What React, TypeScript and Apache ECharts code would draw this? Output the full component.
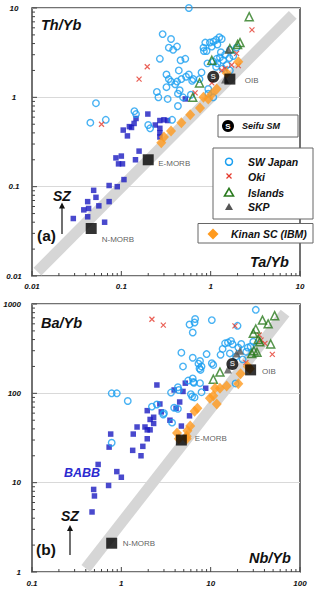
import React, { useEffect, useRef } from 'react';
import * as echarts from 'echarts';

const FONT = '"Liberation Sans", Arial, Helvetica, sans-serif';

// ---------- Panel (a): Th/Yb vs Ta/Yb ----------
const A_SW_JAPAN: number[][] = [
  [0.57, 10], [0.29, 5.1], [0.36, 4.5], [0.34, 3.6], [0.38, 3.4], [0.42, 3.7], [0.27, 2.7],
  [0.46, 2.6], [0.52, 2.7], [0.44, 2.0], [0.32, 1.8], [0.34, 1.6], [0.36, 1.5], [0.42, 1.5],
  [0.47, 1.6], [0.53, 1.7], [0.57, 1.8], [0.64, 1.6], [0.75, 1.6], [0.79, 1.9], [0.40, 1.4],
  [0.32, 1.3], [0.45, 1.2], [0.25, 1.15], [0.26, 1.0], [0.33, 0.96], [0.43, 1.1], [0.49, 1.0],
  [0.43, 0.8], [0.60, 1.07], [0.052, 0.86], [0.045, 0.52], [0.067, 0.56], [0.14, 0.70],
  [0.146, 0.65], [0.20, 0.49], [0.21, 0.45], [0.37, 0.56],
  [0.87, 4.1], [0.83, 3.6], [0.98, 4.1], [1.07, 4.2], [1.15, 4.4], [1.25, 4.7], [1.33, 4.5],
  [1.03, 3.7], [1.19, 3.9], [0.90, 3.3], [0.84, 3.3], [1.30, 3.2], [1.45, 3.0], [1.64, 3.4],
  [1.95, 3.6], [1.27, 2.8], [1.38, 2.6], [1.19, 2.4], [0.92, 2.4], [1.07, 2.5], [1.62, 2.75],
  [1.79, 2.9], [1.51, 2.3], [1.36, 2.1], [1.15, 2.2], [1.64, 2.0], [0.62, 1.53], [0.94, 1.24],
  [1.07, 1.0], [0.94, 1.1], [1.17, 2.7],
];
const A_OKI: number[][] = [
  [0.195, 2.2], [0.158, 1.6], [2.9, 5.7], [0.060, 0.50], [1.95, 3.1], [1.72, 2.3], [2.04, 2.26],
  [1.45, 2.1], [1.03, 1.45], [0.67, 1.12], [1.33, 2.0],
];
const A_ISLANDS: number[][] = [
  [2.7, 8.0], [2.13, 4.1], [2.0, 3.9], [1.64, 3.5], [1.03, 2.6], [0.75, 1.45], [0.63, 1.0],
];
const A_SKP: number[][] = [[1.58, 3.4], [1.45, 1.58]];
const A_KINAN: number[][] = [
  [2.04, 2.5], [1.51, 1.87], [1.17, 1.24], [1.03, 1.09], [0.83, 1.0], [0.94, 0.96], [0.76, 0.76],
  [0.59, 0.64], [0.47, 0.52], [0.36, 0.42], [0.30, 0.36], [0.28, 0.31],
];
const A_BABB: number[][] = [
  [0.198, 0.65], [0.146, 0.58], [0.139, 0.51], [0.123, 0.47], [0.105, 0.43], [0.117, 0.37],
  [0.13, 0.46], [0.24, 0.49], [0.27, 0.55], [0.30, 0.56], [0.33, 0.55], [0.27, 0.45],
  [0.27, 0.40], [0.27, 0.36], [0.52, 0.96], [0.158, 0.25], [0.087, 0.21], [0.10, 0.22],
  [0.093, 0.18], [0.103, 0.18], [0.144, 0.20], [0.073, 0.103], [0.090, 0.10], [0.107, 0.12],
  [0.049, 0.091], [0.052, 0.076], [0.042, 0.068], [0.073, 0.068], [0.056, 0.061],
  [0.038, 0.055], [0.043, 0.057], [0.029, 0.044], [0.042, 0.046], [0.065, 0.040],
];
const A_NMORB = [0.046, 0.034];
const A_EMORB = [0.2, 0.2];
const A_OIB = [1.64, 1.6];
const A_SEIFU = [1.07, 1.7];
const A_BAND: number[][] = [[0.0115, 0.0112], [8.3, 8.4]];

// ---------- Panel (b): Ba/Yb vs Nb/Yb ----------
const B_SW_JAPAN: number[][] = [
  [32, 860], [6.7, 680], [6.6, 620], [5.8, 590], [6.3, 480], [10.3, 660], [20, 570], [4.7, 285],
  [4.9, 200], [6.3, 250], [7.6, 230], [9.0, 275], [7.3, 215], [7.5, 190], [7.9, 200], [7.7, 183],
  [10.3, 217], [10.7, 208], [12.9, 270], [13.6, 314], [14.5, 363], [15.6, 370], [16.9, 386],
  [17.6, 354], [20.4, 325], [22, 357], [26, 325], [25, 292], [30, 378], [28, 335], [16.4, 280],
  [19.2, 258], [22.8, 240], [6.3, 147], [6.5, 131], [7.6, 130], [5.6, 139], [4.3, 117],
  [3.6, 102], [4.4, 109], [6.0, 98], [6.2, 92], [6.6, 90], [7.9, 103], [2.2, 71], [2.5, 75],
  [19, 129], [0.78, 100], [0.89, 100], [1.18, 82], [3.0, 60], [3.7, 47], [4.3, 67], [3.9, 69],
  [6.4, 134], [0.78, 28], [2.95, 58],
];
const B_OKI: number[][] = [
  [2.2, 675], [2.95, 580], [18.7, 570], [35, 450], [36.6, 395], [40.5, 363], [49, 273], [24.8, 221],
];
const B_ISLANDS: number[][] = [
  [52, 740], [38, 660], [44, 600], [32, 525], [30, 470], [34, 400], [35.5, 378], [47, 357],
  [30.5, 300], [33, 288], [28.8, 280], [12.7, 173], [10.7, 144],
];
const B_SKP: number[][] = [[19.5, 280], [15.6, 185], [21.3, 300]];
const B_KINAN: number[][] = [
  [27.5, 188], [26, 200], [21.6, 166], [20.4, 128], [15.1, 121], [12.7, 114], [11.2, 114],
  [10.7, 94], [11.7, 76], [9.8, 88], [7.1, 68], [6.6, 63], [5.9, 43], [5.4, 33], [4.2, 36],
  [5.5, 38], [4.4, 31], [5.4, 31],
];
const B_BABB: number[][] = [
  [2.5, 124], [3.9, 109], [4.9, 105], [5.2, 130], [8.8, 114], [2.7, 76], [4.5, 80], [4.1, 68],
  [1.95, 64], [2.3, 54], [2.1, 51], [2.3, 46], [2.8, 62], [3.5, 50], [4.7, 43], [5.8, 56],
  [1.5, 42], [1.84, 42], [1.95, 39], [2.1, 39], [0.76, 35], [1.36, 35], [1.95, 31], [0.73, 25],
  [1.74, 25.5], [1.34, 23], [1.66, 20], [0.55, 16], [0.89, 13.3], [1.0, 11.5], [0.49, 8.4],
  [0.72, 9.3], [0.50, 7.1], [0.47, 4.7],
];
const B_NMORB = [0.78, 2.1];
const B_EMORB = [4.7, 30];
const B_OIB = [28, 183];
const B_SEIFU = [17.5, 213];
const B_BAND: number[][] = [[0.4, 1.1], [68, 790]];

// axis ranges and tick positions
const A_X_RANGE = [0.01, 10];
const A_Y_RANGE = [0.01, 10];
const B_X_RANGE = [0.1, 100];
const B_Y_RANGE = [1, 1000];
const TICK_FACTORS = [1, 2, 3, 4, 5, 6, 7, 8, 9];

const C_SWJ = '#1a9ff0';
const C_OKI = '#e53a2d';
const C_ISL = '#2a7a1e';
const C_SKP = '#555555';
const C_KIN = '#ff9a1e';
const C_BABB = '#1c1cc0';

function tickList(range: number[]) {
  const out: number[][] = [];
  for (let d = range[0]; d < range[1] * 0.999; d *= 10) {
    TICK_FACTORS.forEach((f) => out.push([Number((d * f).toPrecision(3)), f === 1 ? 1 : 0]));
  }
  out.push([range[1], 1]);
  return out;
}

export default function App() {
  const ref = useRef<HTMLDivElement>(null);
  useEffect(() => {
    const chart = echarts.init(ref.current!, null, { renderer: 'svg' });

    const labelFmt = (v: number) => String(Number(v.toPrecision(2)));
    const axisLabel = (extra: any) => ({
      fontFamily: FONT, fontSize: 8, fontWeight: 'bold', fontStyle: 'italic', color: '#111',
      formatter: labelFmt, ...extra,
    });
    const xAx = (grid: number, range: number[], margin: number) => ({
      type: 'log', logBase: 10, gridIndex: grid, min: range[0], max: range[1],
      axisLine: { show: false }, axisTick: { show: false }, splitLine: { show: false },
      axisLabel: axisLabel({ margin }),
    });
    const yAx = (grid: number, range: number[], lab: any) => ({
      type: 'log', logBase: 10, gridIndex: grid, min: range[0], max: range[1],
      axisLine: { show: false }, axisTick: { show: false },
      splitLine: { show: true, lineStyle: { color: '#d9d9d9', width: 1 } },
      axisLabel: axisLabel(lab),
    });

    const scatter = (idx: number, data: any[], opts: any) => ({
      type: 'scatter', xAxisIndex: idx, yAxisIndex: idx, data, silent: true, ...opts,
    });
    const swj = (idx: number, d: number[][]) => scatter(idx, d, {
      symbol: 'circle', symbolSize: 6.5, z: 4,
      itemStyle: { color: 'rgba(255,255,255,0)', borderColor: C_SWJ, borderWidth: 1.4 },
    });
    const oki = (idx: number, d: number[][]) => scatter(idx, d, {
      symbol: 'path://M0,0L10,10M10,0L0,10', symbolSize: 5, z: 5,
      itemStyle: { color: 'rgba(0,0,0,0)', borderColor: C_OKI, borderWidth: 1.2 },
    });
    const isl = (idx: number, d: number[][]) => scatter(idx, d, {
      symbol: 'triangle', symbolSize: 8, z: 5,
      itemStyle: { color: 'rgba(255,255,255,0)', borderColor: C_ISL, borderWidth: 1.5 },
    });
    const skp = (idx: number, d: number[][]) => scatter(idx, d, {
      symbol: 'triangle', symbolSize: 8, z: 6, itemStyle: { color: C_SKP },
    });
    const kin = (idx: number, d: number[][]) => scatter(idx, d, {
      symbol: 'diamond', symbolSize: [10, 11], z: 7, itemStyle: { color: C_KIN },
    });
    const babb = (idx: number, d: number[][]) => scatter(idx, d, {
      symbol: 'rect', symbolSize: 5.5, z: 3, itemStyle: { color: C_BABB },
    });
    const refLabel = (text: string, dist: number, dy: number) => ({
      show: true, formatter: text, position: 'right', distance: dist, offset: [0, dy],
      color: '#333', fontSize: 8, fontFamily: FONT,
    });
    const refs = (idx: number, items: any[]) => scatter(idx, items, {
      symbol: 'rect', symbolSize: 11, z: 8, itemStyle: { color: '#000' },
    });
    const seifu = (idx: number, p: number[]) => scatter(idx, [p], {
      symbol: 'circle', symbolSize: 12, z: 9, itemStyle: { color: '#000' },
      label: { show: true, position: 'inside', formatter: 'S', color: '#fff', fontWeight: 'bold', fontSize: 8, fontFamily: FONT },
    });
    const band = (idx: number, d: number[][]) => ({
      type: 'line', xAxisIndex: idx, yAxisIndex: idx, data: d, showSymbol: false, silent: true, z: 1,
      lineStyle: { color: '#d6d6d6', width: 11, cap: 'butt' },
    });
    const ticks = (idx: number, xr: number[], yr: number[]) => [
      {
        type: 'custom', xAxisIndex: idx, yAxisIndex: idx, clip: false, silent: true, z: 10,
        data: tickList(yr).map((t) => [xr[0], t[0], t[1]]),
        renderItem: (_p: any, api: any) => {
          const pt = api.coord([api.value(0), api.value(1)]);
          const len = api.value(2) ? 5 : 3;
          return { type: 'line', shape: { x1: pt[0], y1: pt[1], x2: pt[0] + len, y2: pt[1] }, style: { stroke: '#444', lineWidth: 1 } };
        },
      },
      {
        type: 'custom', xAxisIndex: idx, yAxisIndex: idx, clip: false, silent: true, z: 10,
        data: tickList(xr).map((t) => [t[0], yr[0], t[1]]),
        renderItem: (_p: any, api: any) => {
          const pt = api.coord([api.value(0), api.value(1)]);
          const len = api.value(2) ? 5 : 3;
          return { type: 'line', shape: { x1: pt[0], y1: pt[1], x2: pt[0], y2: pt[1] - len }, style: { stroke: '#444', lineWidth: 1 } };
        },
      },
    ];

    const tf = (size: number, w = 'bold', s = 'italic') => `${s} ${w} ${size}px ${FONT}`;
    const txt = (x: number, y: number, text: string, font: string, fill = '#111', align = 'left') => ({
      type: 'text', z: 100, style: { x, y, text, font, fill, align, verticalAlign: 'middle' },
    });
    const arrow = (x: number, y0: number, y1: number) => [
      { type: 'line', z: 100, shape: { x1: x, y1: y0, x2: x, y2: y1 + 4 }, style: { stroke: '#111', lineWidth: 1.2 } },
      { type: 'polygon', z: 100, shape: { points: [[x - 3, y1 + 6], [x, y1], [x + 3, y1 + 6]] }, style: { fill: '#111' } },
    ];

    const graphic: any[] = [
      txt(41, 25, 'Th/Yb', tf(14.5)),
      txt(250, 262, 'Ta/Yb', tf(14.5)),
      txt(37, 235, '(a)', tf(15.5, 'bold', 'normal')),
      txt(53, 195.5, 'SZ', tf(14)),
      ...arrow(62, 234, 202.5),
      txt(41, 323, 'Ba/Yb', tf(14.5)),
      txt(249, 558, 'Nb/Yb', tf(14.5)),
      txt(36, 549.5, '(b)', tf(15.5, 'bold', 'normal')),
      txt(61, 516, 'SZ', tf(14)),
      ...arrow(70, 555, 525),
      txt(64, 473, 'BABB', tf(12.5), '#2a2ad0'),
      // Seifu SM legend
      { type: 'rect', z: 100, shape: { x: 218, y: 115, width: 80, height: 22 }, style: { fill: '#fff', stroke: '#666', lineWidth: 1 } },
      { type: 'circle', z: 101, shape: { cx: 228, cy: 126, r: 6 }, style: { fill: '#000' } },
      { type: 'text', z: 102, style: { x: 228, y: 126.5, text: 'S', font: tf(8, 'bold', 'normal'), fill: '#fff', align: 'center', verticalAlign: 'middle' } },
      txt(242, 126, 'Seifu SM', tf(9)),
      // main legend
      { type: 'rect', z: 100, shape: { x: 213, y: 148, width: 100, height: 71 }, style: { fill: '#fff', stroke: '#666', lineWidth: 1 } },
      { type: 'circle', z: 101, shape: { cx: 229, cy: 161.7, r: 3.5 }, style: { fill: 'none', stroke: C_SWJ, lineWidth: 1.5 } },
      { type: 'line', z: 101, shape: { x1: 226.5, y1: 173.5, x2: 231.5, y2: 178.5 }, style: { stroke: C_OKI, lineWidth: 1.3 } },
      { type: 'line', z: 101, shape: { x1: 231.5, y1: 173.5, x2: 226.5, y2: 178.5 }, style: { stroke: C_OKI, lineWidth: 1.3 } },
      { type: 'polygon', z: 101, shape: { points: [[229, 188.3], [233.5, 196], [224.5, 196]] }, style: { fill: 'none', stroke: C_ISL, lineWidth: 1.6 } },
      { type: 'polygon', z: 101, shape: { points: [[229, 203], [233, 210], [225, 210]] }, style: { fill: C_SKP } },
      txt(248, 162, 'SW Japan', tf(10.5)),
      txt(248, 176.5, 'Oki', tf(10.5)),
      txt(248, 192.5, 'Islands', tf(10.5)),
      txt(248, 207, 'SKP', tf(10.5)),
      // Kinan legend
      { type: 'rect', z: 100, shape: { x: 198, y: 223.5, width: 115, height: 19.5 }, style: { fill: '#fff', stroke: '#666', lineWidth: 1 } },
      { type: 'polygon', z: 101, shape: { points: [[213, 228.5], [218.5, 234], [213, 239.5], [207.5, 234]] }, style: { fill: C_KIN } },
      txt(231, 234, 'Kinan SC (IBM)', tf(10.5)),
    ];

    const option: any = {
      animation: false,
      backgroundColor: '#fff',
      grid: [
        { left: 32, top: 8, width: 268, height: 268, show: true, borderColor: '#444', borderWidth: 1.5, backgroundColor: 'transparent' },
        { left: 32, top: 304, width: 268, height: 268, show: true, borderColor: '#444', borderWidth: 1.5, backgroundColor: 'transparent' },
      ],
      xAxis: [xAx(0, A_X_RANGE, 6), xAx(1, B_X_RANGE, 7)],
      yAxis: [
        yAx(0, A_Y_RANGE, { margin: 18, align: 'center' }),
        yAx(1, B_Y_RANGE, { margin: 11, align: 'right' }),
      ],
      series: [
        band(0, A_BAND),
        babb(0, A_BABB), swj(0, A_SW_JAPAN), oki(0, A_OKI), isl(0, A_ISLANDS), skp(0, A_SKP), kin(0, A_KINAN),
        refs(0, [
          { value: A_NMORB, label: refLabel('N-MORB', 5, 11) },
          { value: A_EMORB, label: refLabel('E-MORB', 4.5, 4) },
          { value: A_OIB, label: refLabel('OIB', 9.5, 1.5) },
        ]),
        seifu(0, A_SEIFU),
        ...ticks(0, A_X_RANGE, A_Y_RANGE),
        band(1, B_BAND),
        babb(1, B_BABB), swj(1, B_SW_JAPAN), oki(1, B_OKI), isl(1, B_ISLANDS), skp(1, B_SKP), kin(1, B_KINAN),
        refs(1, [
          { value: B_NMORB, label: refLabel('N-MORB', 5.5, 0) },
          { value: B_EMORB, label: refLabel('E-MORB', 8, -2) },
          { value: B_OIB, label: refLabel('OIB', 6, 1.5) },
        ]),
        seifu(1, B_SEIFU),
        ...ticks(1, B_X_RANGE, B_Y_RANGE),
      ],
      graphic,
    };
    chart.setOption(option);
    return () => chart.dispose();
  }, []);
  return <div ref={ref} style={{ position: 'fixed', left: 0, top: 0, width: 320, height: 591 }} />;
}
